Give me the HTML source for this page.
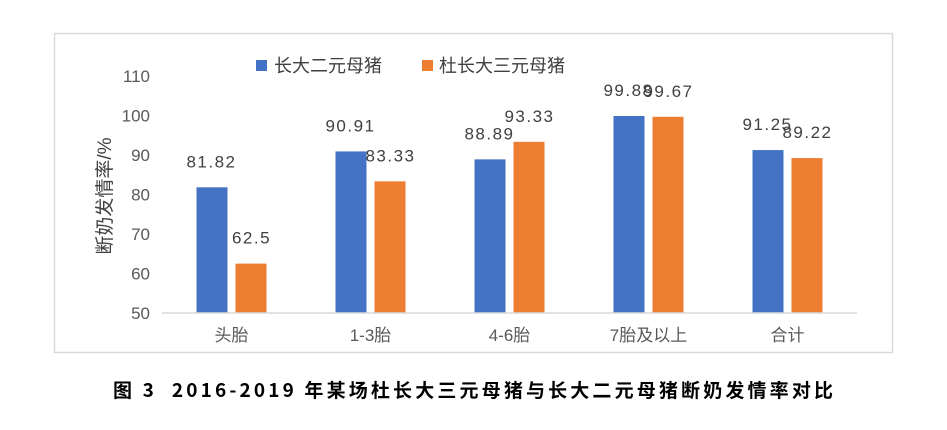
<!DOCTYPE html>
<html><head><meta charset="utf-8"><style>
body{margin:0;background:#fff;width:947px;height:425px;overflow:hidden}
svg text{font-family:"Liberation Sans","Noto Sans CJK SC",sans-serif}
</style></head><body>
<svg id="chart" width="947" height="425" xmlns="http://www.w3.org/2000/svg">
<rect x="54.5" y="33.5" width="838" height="319" fill="#fff" stroke="#d9d9d9" stroke-width="1.5"/>
<g>
<rect x="256" y="60" width="11" height="11" fill="#4472c4"/>
<text x="274" y="72" font-size="18" fill="#404040">长大二元母猪</text>
<rect x="422" y="60" width="11" height="11" fill="#ed7d31"/>
<text x="439" y="72" font-size="18" fill="#404040">杜长大三元母猪</text>
</g>
<text transform="translate(111,196) rotate(-90)" text-anchor="middle" font-size="19" fill="#404040">断奶发情率/%</text>
<g id="yticks"></g><g id="bars"></g><g id="xlabels"></g>
<line x1="162" y1="313" x2="857" y2="313" stroke="#d9d9d9" stroke-width="1.5"/>
<text x="113" y="397" font-size="19" font-weight="bold" fill="#000" style="font-family:'Noto Sans CJK SC',sans-serif;white-space:pre" textLength="720" lengthAdjust="spacing">图 3  2016-2019 年某场杜长大三元母猪与长大二元母猪断奶发情率对比</text>
</svg>
<script>
const categories=["头胎","1-3胎","4-6胎","7胎及以上","合计"];
const seriesA=[81.82,90.91,88.89,99.88,91.25];
const seriesB=[62.5,83.33,93.33,99.67,89.22];
const labelsA=["81.82","90.91","88.89","99.88","91.25"];
const labelsB=["62.5","83.33","93.33","99.67","89.22"];
const yTicks=[50,60,70,80,90,100,110];
const NS="http://www.w3.org/2000/svg";
const y0=313,y1=76,vmin=50,vmax=110,xl=162,xr=857;
const ys=v=>y0-(v-vmin)/(vmax-vmin)*(y0-y1);
const band=(xr-xl)/categories.length;
const xc=i=>xl+band*(i+0.5);
function mk(t,a,p){const e=document.createElementNS(NS,t);for(const k in a)e.setAttribute(k,a[k]);p.appendChild(e);return e;}
const yt=document.getElementById('yticks'),bars=document.getElementById('bars'),xlab=document.getElementById('xlabels');
yTicks.forEach(v=>{const t=mk('text',{x:150,y:ys(v)+6,'text-anchor':'end','font-size':17,fill:'#595959'},yt);t.textContent=v;

});
const bw=31;
categories.forEach((c,i)=>{
 const cx=xc(i);
 const a=mk('rect',{x:cx-35,y:ys(seriesA[i]),width:bw,height:y0-ys(seriesA[i]),fill:'#4472c4'},bars);
 
 
 const b=mk('rect',{x:cx+4,y:ys(seriesB[i]),width:bw,height:y0-ys(seriesB[i]),fill:'#ed7d31'},bars);
 
 
 const la=mk('text',{x:cx-20,y:ys(seriesA[i])-20,'text-anchor':'middle','font-size':17,fill:'#404040','letter-spacing':'1.5'},bars);la.textContent=labelsA[i];
 
 
 const lb=mk('text',{x:cx+20,y:ys(seriesB[i])-20,'text-anchor':'middle','font-size':17,fill:'#404040','letter-spacing':'1.5'},bars);lb.textContent=labelsB[i];
 
 
 const xt=mk('text',{x:cx,y:341,'text-anchor':'middle','font-size':17,fill:'#595959'},xlab);xt.textContent=c;
 
 
});
</script>
</body></html>
